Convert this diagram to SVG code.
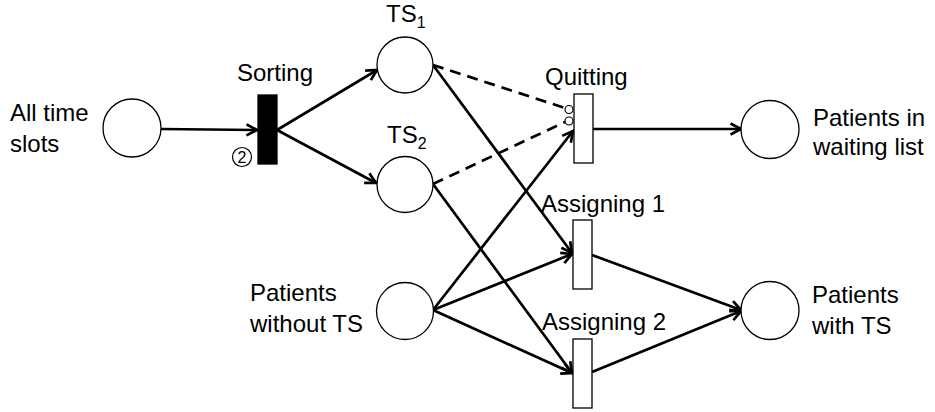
<svg xmlns="http://www.w3.org/2000/svg" width="935" height="412" viewBox="0 0 935 412">
<defs>
<marker id="arr" viewBox="0 0 14 14" refX="12" refY="7" markerWidth="14" markerHeight="14" markerUnits="userSpaceOnUse" orient="auto" overflow="visible">
<path d="M1.5,1.5 L12,7 L1.5,12.5" fill="none" stroke="#000" stroke-width="2.7"/>
</marker>
<style>
.place{fill:#fff;stroke:#000;stroke-width:1.3}
.trans{fill:#fff;stroke:#000;stroke-width:1.3}
.arc{fill:none;stroke:#000;stroke-width:2.7;marker-end:url(#arr)}
.inh{fill:none;stroke:#000;stroke-width:2.7;stroke-dasharray:11 7}
.inhc{fill:#fff;stroke:#000;stroke-width:1.2}
text{font-family:"Liberation Sans",Arial,sans-serif;font-size:24px;fill:#000}
.sub{font-size:16px}
</style>
</defs>
<rect width="935" height="412" fill="#fff"/>
<g id="connectors">
<line class="arc" x1="161" y1="129" x2="257" y2="130"/>
<line class="arc" x1="277" y1="130" x2="377" y2="70"/>
<line class="arc" x1="277" y1="130" x2="376" y2="183"/>
<line class="inh" x1="433" y1="65" x2="565" y2="108"/>
<line class="inh" x1="433" y1="184" x2="565" y2="122"/>
<line class="arc" x1="433" y1="310" x2="573" y2="131"/>
<line class="arc" x1="433" y1="65" x2="572" y2="253"/>
<line class="arc" x1="433" y1="310" x2="572" y2="254"/>
<line class="arc" x1="433" y1="184" x2="572" y2="373"/>
<line class="arc" x1="433" y1="310" x2="572" y2="373"/>
<line class="arc" x1="593" y1="129" x2="741" y2="129"/>
<line class="arc" x1="592" y1="255" x2="741" y2="310"/>
<line class="arc" x1="592" y1="372" x2="741" y2="311"/>
<circle class="inhc" cx="569" cy="109.5" r="4"/>
<circle class="inhc" cx="569" cy="121" r="4"/>
</g>
<g id="all-time-slots">
<circle class="place" cx="132" cy="128" r="29"/>
<text x="10" y="121">All time</text>
<text x="10" y="152">slots</text>
</g>
<g id="sorting">
<rect x="258" y="95" width="19" height="69" fill="#000" stroke="#000" stroke-width="1.3"/>
<text x="237" y="81">Sorting</text>
<circle cx="242" cy="157" r="9.5" fill="none" stroke="#000" stroke-width="1.2"/>
<text x="242" y="163" text-anchor="middle" style="font-size:16px">2</text>
</g>
<g id="ts1">
<circle class="place" cx="405" cy="65" r="28"/>
<text x="386" y="22">TS<tspan class="sub" dy="6">1</tspan></text>
</g>
<g id="ts2">
<circle class="place" cx="405" cy="184.5" r="28"/>
<text x="387" y="143">TS<tspan class="sub" dy="6">2</tspan></text>
</g>
<g id="quitting">
<rect class="trans" x="574" y="94" width="19" height="69"/>
<text x="545" y="85">Quitting</text>
</g>
<g id="assigning1">
<rect class="trans" x="573" y="220" width="19" height="69"/>
<text x="541" y="212">Assigning 1</text>
</g>
<g id="assigning2">
<rect class="trans" x="573" y="339" width="19" height="69"/>
<text x="542" y="330">Assigning 2</text>
</g>
<g id="patients-without-ts">
<circle class="place" cx="405" cy="311" r="28.5"/>
<text x="250" y="301">Patients</text>
<text x="250" y="332">without TS</text>
</g>
<g id="patients-waiting-list">
<circle class="place" cx="770" cy="129.5" r="29"/>
<text x="813" y="126">Patients in</text>
<text x="813" y="155">waiting list</text>
</g>
<g id="patients-with-ts">
<circle class="place" cx="770" cy="310.5" r="29"/>
<text x="812" y="303">Patients</text>
<text x="812" y="334">with TS</text>
</g>
</svg>
